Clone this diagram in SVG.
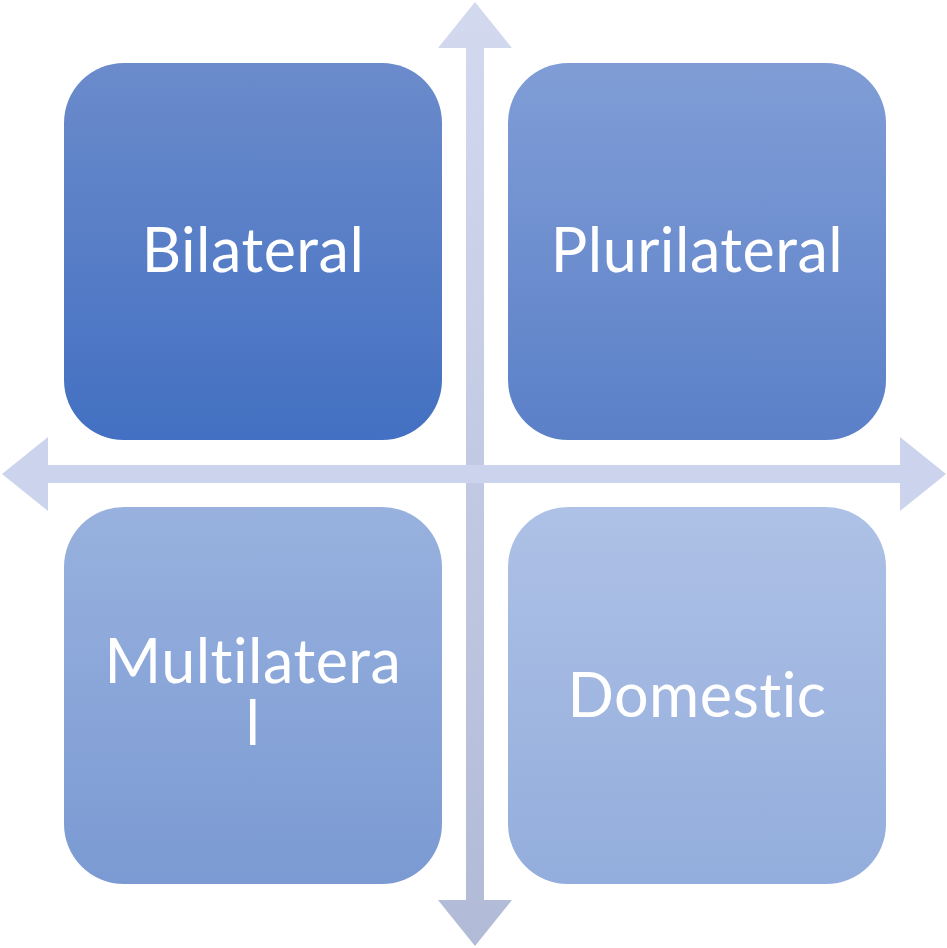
<svg xmlns="http://www.w3.org/2000/svg" width="947" height="948" viewBox="0 0 947 948">
<defs>
<linearGradient id="gv" x1="0" y1="0" x2="0" y2="1"><stop offset="0" stop-color="#d3d9ef"/><stop offset="1" stop-color="#b1bad6"/></linearGradient>
<linearGradient id="g1" x1="0" y1="0" x2="0" y2="1"><stop offset="0" stop-color="#6b8bcb"/><stop offset="1" stop-color="#4370c2"/></linearGradient>
<linearGradient id="g2" x1="0" y1="0" x2="0" y2="1"><stop offset="0" stop-color="#809dd6"/><stop offset="1" stop-color="#5b80c8"/></linearGradient>
<linearGradient id="g3" x1="0" y1="0" x2="0" y2="1"><stop offset="0" stop-color="#98b1de"/><stop offset="1" stop-color="#7b9ad3"/></linearGradient>
<linearGradient id="g4" x1="0" y1="0" x2="0" y2="1"><stop offset="0" stop-color="#aec1e6"/><stop offset="1" stop-color="#93addc"/></linearGradient>
</defs>
<style>
text{font-family:Lato,"Open Sans",sans-serif;font-size:61px;fill:#fff;text-anchor:middle;font-variant-ligatures:none;letter-spacing:0.5px}
</style>
<g id="connectors">
<polygon fill="url(#gv)" points="475,2 512,48 484,48 484,900 512,900 475,946 438,900 466,900 466,48 438,48"/>
<polygon fill="#ccd3ec" points="2,474 48,437 48,465 900,465 900,437 946,474 900,511 900,483 48,483 48,511"/>
</g>
<g id="bilateral"><rect x="64" y="63" width="378" height="377" rx="60" fill="url(#g1)"/><text x="253" y="272">Bilateral</text></g>
<g id="plurilateral"><rect x="508" y="63" width="378" height="377" rx="60" fill="url(#g2)"/><text x="697" y="272">Plurilateral</text></g>
<g id="multilateral"><rect x="64" y="507" width="378" height="377" rx="60" fill="url(#g3)"/><text><tspan x="253" y="683">Multilatera</tspan><tspan x="253" y="745">l</tspan></text></g>
<g id="domestic"><rect x="508" y="507" width="378" height="377" rx="60" fill="url(#g4)"/><text x="697" y="717">Domestic</text></g>
</svg>
